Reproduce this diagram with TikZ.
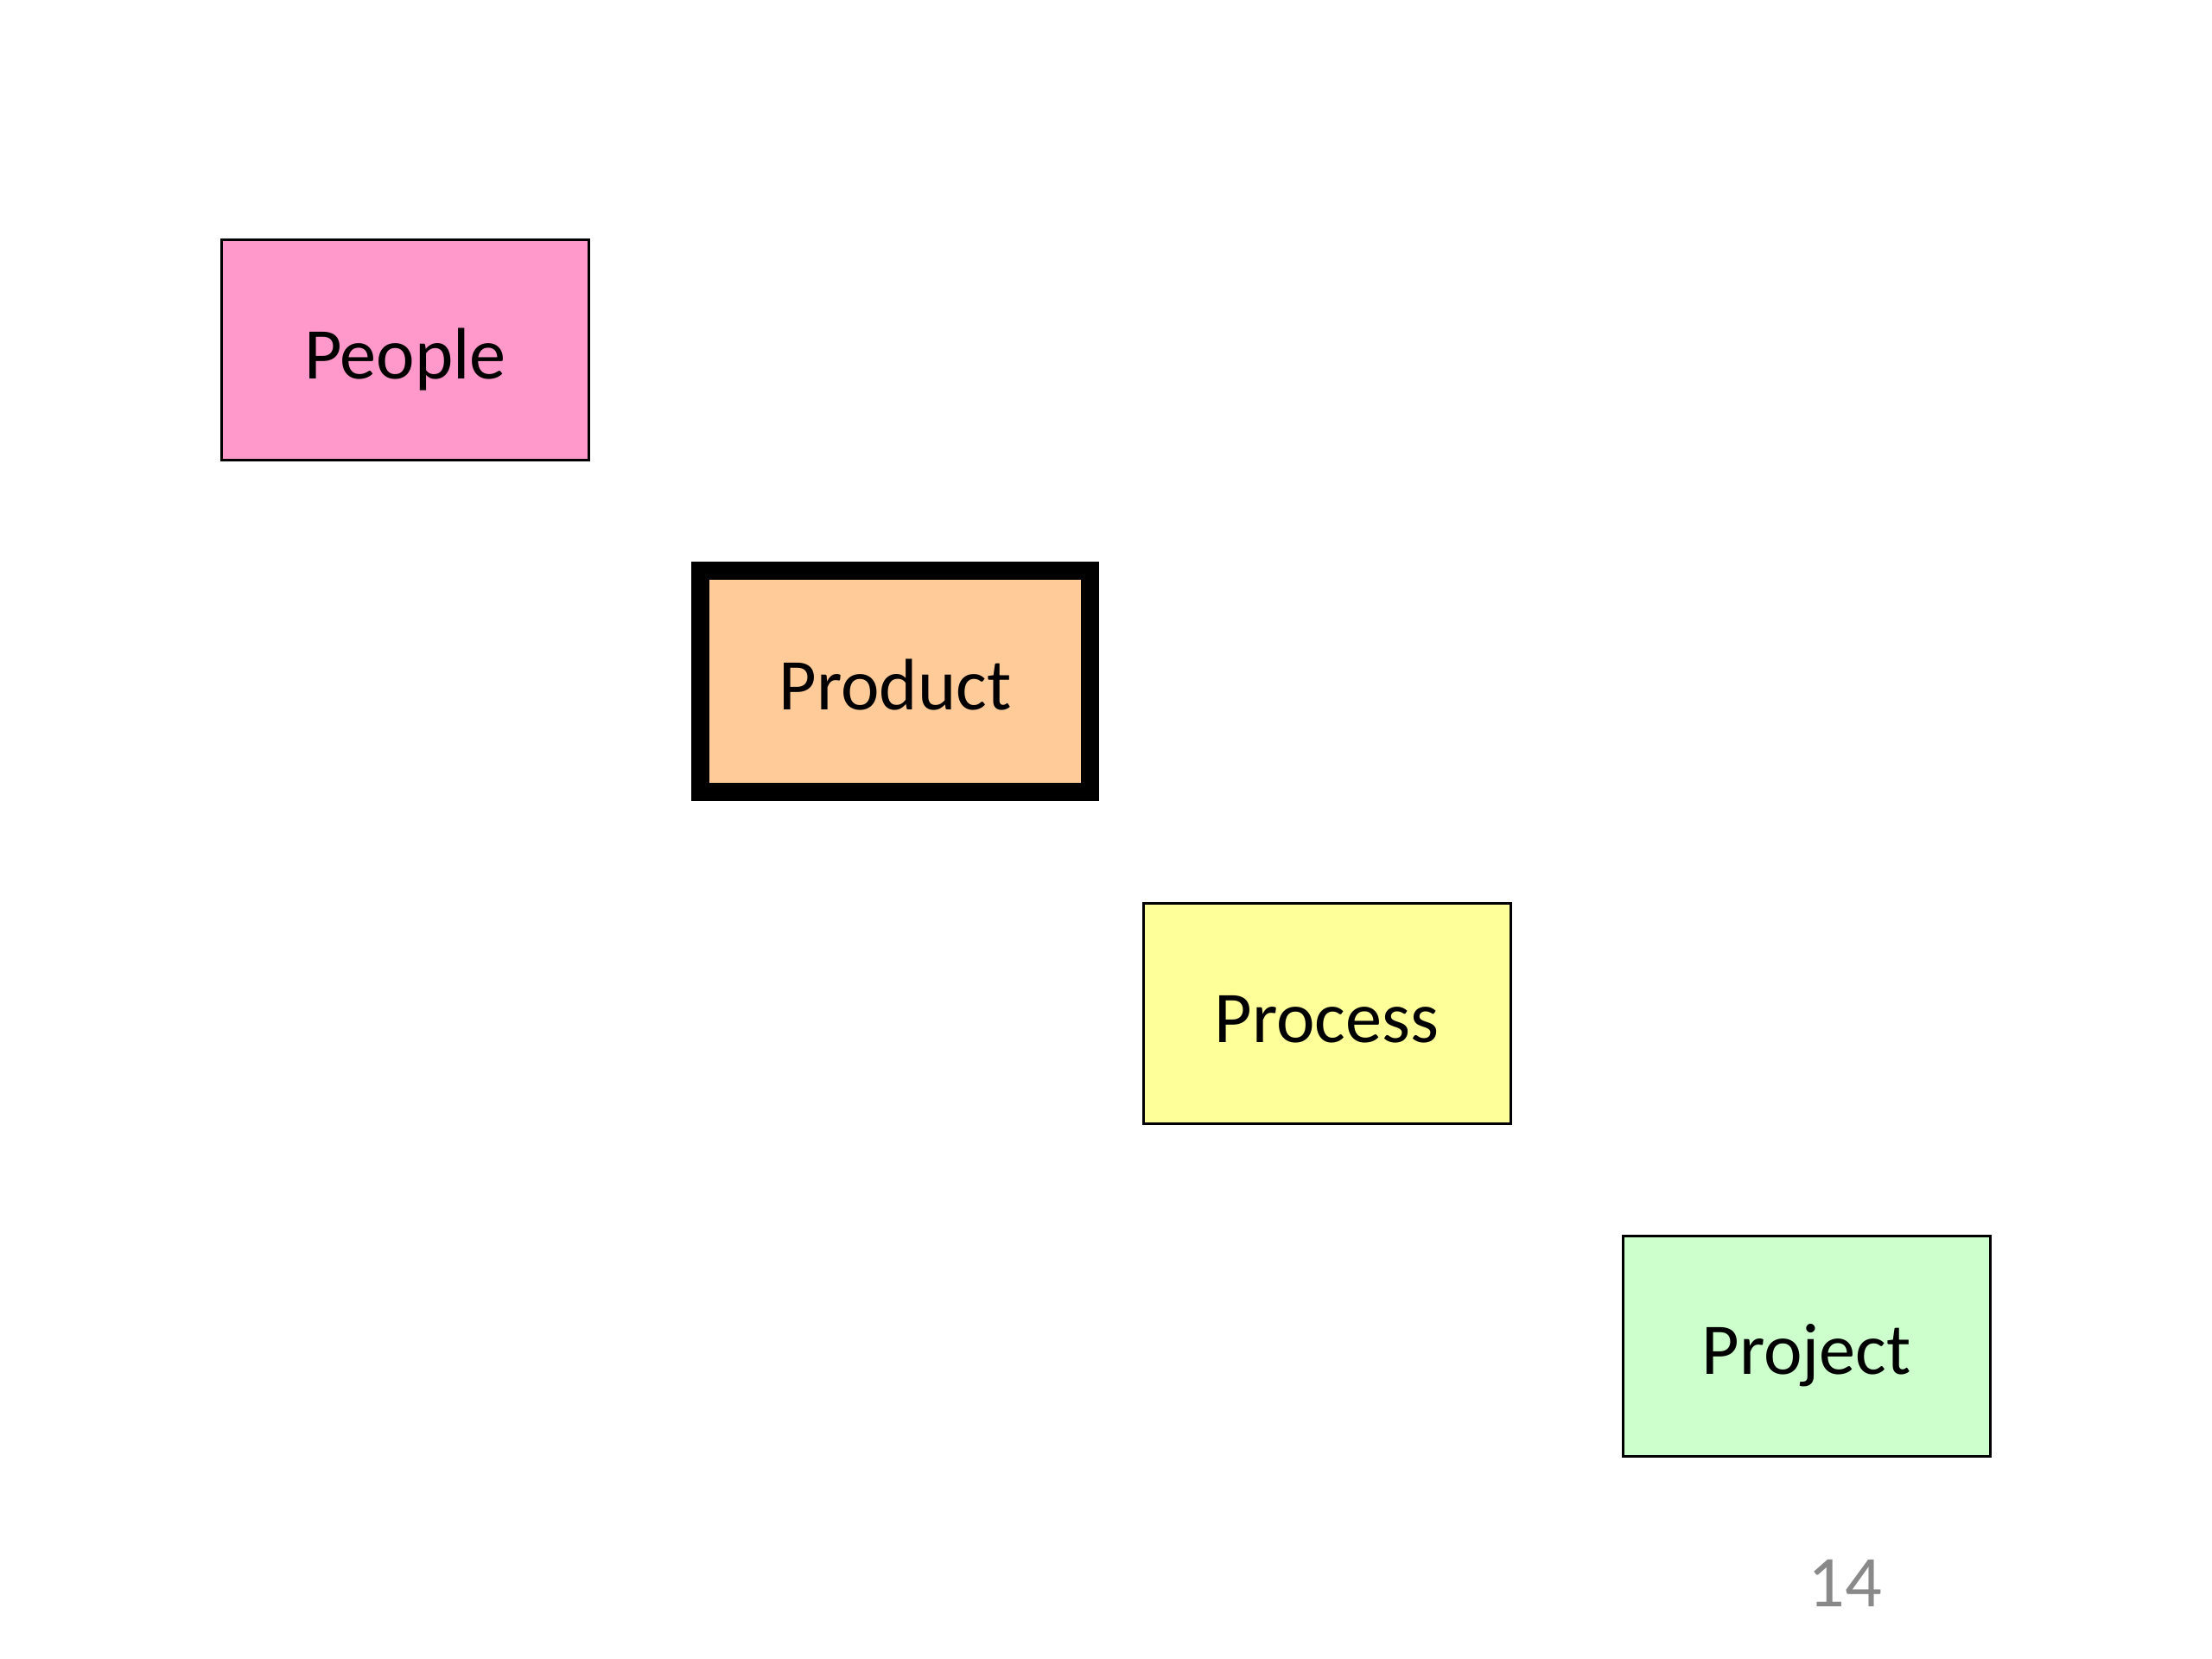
\documentclass[tikz,border=0pt]{standalone}
\usepackage{fontspec}
\setmainfont{Carlito}
\usetikzlibrary{positioning}
\definecolor{peoplepink}{HTML}{FF99CC}
\definecolor{productorange}{HTML}{FFCC99}
\definecolor{processyellow}{HTML}{FFFF99}
\definecolor{projectgreen}{HTML}{CCFFCC}
\definecolor{pagegray}{HTML}{898989}
\tikzset{
    every picture/.style={line width=0.85pt},
    pbox/.style={draw=black, rectangle, inner sep=0pt, minimum width=4.25cm, minimum height=2.55cm,
        text height=20pt, text depth=1pt, font=\fontsize{24}{28}\selectfont}
}
\begin{document}
\begin{tikzpicture}
    % 页面范围
    \useasboundingbox (0,0) rectangle (25.6,-19.2);
    \fill[white] (0,0) rectangle (25.6,-19.2);

    % 四个方框
    \node[pbox, fill=peoplepink] (people) at (4.69,-4.05) {People};
    \node[pbox, fill=productorange, line width=0.21cm, minimum width=4.51cm, minimum height=2.56cm] (product) at (10.36,-7.885) {Product};
    \node[pbox, fill=processyellow] (process) at (15.355,-11.73) {Process};
    \node[pbox, fill=projectgreen] (project) at (20.905,-15.575) {Project};

    % 页码
    \node[text=pagegray, font=\fontsize{24}{28}\selectfont] (pagenum) at (21.35,-18.32) {14};
\end{tikzpicture}
\end{document}
